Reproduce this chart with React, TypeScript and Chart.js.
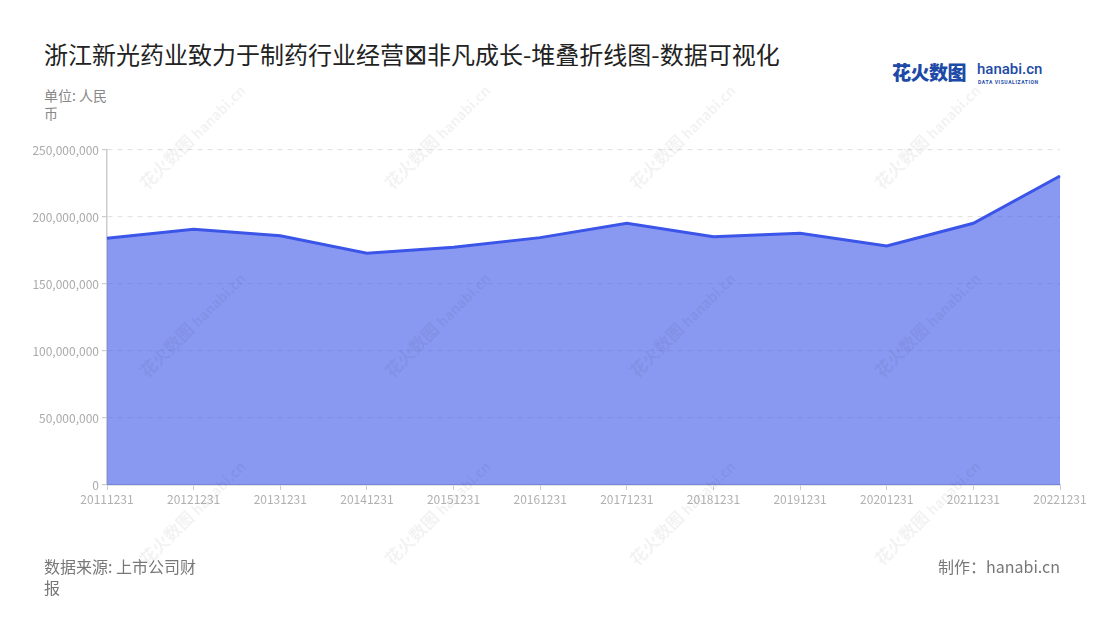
import React, { useRef, useEffect } from 'react';
import { Chart, registerables } from 'chart.js';

Chart.register(...registerables);

const categories = ['20111231', '20121231', '20131231', '20141231', '20151231', '20161231', '20171231', '20181231', '20191231', '20201231', '20211231', '20221231'];
const revenue = [184100000, 190800000, 186000000, 172900000, 177400000, 184600000, 195300000, 185300000, 187800000, 178400000, 195300000, 230600000];
const yTicks = [0, 50000000, 100000000, 150000000, 200000000, 250000000];

const FONT = '"Noto Sans CJK SC", "Noto Sans", sans-serif';

const Watermarks: React.FC = () => {
    const marks: React.ReactNode[] = [];
    for (let r = 0; r < 3; r++) {
        for (let c = 0; c < 4; c++) {
            marks.push(
                <div
                    key={`${r}-${c}`}
                    style={{
                        position: 'absolute',
                        left: 120 + c * 245,
                        top: 120 + r * 188,
                        width: 150,
                        transform: 'rotate(-45deg)',
                        color: 'rgba(0,0,0,0.05)',
                        fontSize: 17,
                        fontWeight: 700,
                        whiteSpace: 'nowrap',
                    }}
                >
                    花火数图 <span style={{ fontSize: 14 }}>hanabi.cn</span>
                </div>
            );
        }
    }
    return <div style={{ position: 'absolute', inset: 0, pointerEvents: 'none', overflow: 'hidden' }}>{marks}</div>;
};

const StackedLine: React.FC = () => {
    const chartRef = useRef<HTMLCanvasElement>(null);
    const chartInstanceRef = useRef<Chart | null>(null);

    useEffect(() => {
        if (!chartRef.current) return;
        const ctx = chartRef.current.getContext('2d');
        if (!ctx) return;
        if (chartInstanceRef.current) chartInstanceRef.current.destroy();

        chartInstanceRef.current = new Chart(ctx, {
            type: 'line',
            data: {
                labels: categories,
                datasets: [{
                    label: '营业收入',
                    data: revenue,
                    borderColor: 'rgb(59, 85, 232)',
                    borderWidth: 3,
                    tension: 0,
                    pointRadius: 0,
                    fill: 'origin',
                    backgroundColor: 'rgba(59, 85, 232, 0.6)',
                }]
            },
            options: {
                animation: false,
                responsive: false,
                maintainAspectRatio: false,
                layout: { padding: { top: 20, right: 40, left: 0, bottom: 0 } },
                plugins: {
                    legend: { display: false },
                    tooltip: { enabled: false },
                },
                scales: {
                    x: {
                        afterFit: (scale: any) => { scale.height = 35; },
                        grid: { drawOnChartArea: false, tickLength: 5, color: '#cccccc' },
                        border: { color: '#cccccc', width: 1.5 },
                        ticks: {
                            color: '#b0b0b0',
                            font: { family: FONT, size: 12 },
                            maxRotation: 0,
                            autoSkip: false,
                            padding: 2,
                        },
                    },
                    y: {
                        min: 0,
                        max: 250000000,
                        afterFit: (scale: any) => { scale.width = 87; },
                        afterBuildTicks: (scale: any) => { scale.ticks = yTicks.map(v => ({ value: v })); },
                        grid: { color: '#e4e4e4', tickLength: 5, tickColor: '#cccccc', lineWidth: 1.2 },
                        border: { color: '#cccccc', width: 1.5, dash: [5, 5] },
                        ticks: {
                            color: '#aaaaaa',
                            font: { family: FONT, size: 12 },
                            padding: 3,
                            callback: (v: any) => Number(v).toLocaleString('en-US'),
                        },
                    },
                },
            },
        });

        return () => {
            if (chartInstanceRef.current) chartInstanceRef.current.destroy();
        };
    }, []);

    return (
        <div style={{ position: 'absolute', left: 20, top: 130, width: 1080, height: 390 }}>
            <canvas ref={chartRef} width={1080} height={390} style={{ width: 1080, height: 390 }}></canvas>
        </div>
    );
};

const App: React.FC = () => {
    return (
        <div style={{ position: 'absolute', left: 0, top: 0, width: 1100, height: 620, background: '#fff', fontFamily: FONT, overflow: 'hidden' }}>
            <div style={{ position: 'absolute', left: 44, top: 36, fontSize: 24, color: '#222', whiteSpace: 'nowrap' }}>
                浙江新光药业致力于制药行业经营<span style={{ fontFamily: '"DejaVu Sans"', fontWeight: 300, fontSize: 28, lineHeight: 1 }}>⊠</span>非凡成长-堆叠折线图-数据可视化
            </div>
            <div style={{ position: 'absolute', left: 44, top: 86, width: 68, fontSize: 14, lineHeight: '18px', color: '#888' }}>
                单位: 人民币
            </div>

            <div style={{ position: 'absolute', left: 892, top: 58, whiteSpace: 'nowrap', color: '#1d4aa6' }}>
                <span style={{ fontSize: 19, fontWeight: 900, letterSpacing: -0.5 }}>花火数图</span>
                <span style={{ position: 'absolute', left: 85, top: 2, fontSize: 15, fontWeight: 500, fontFamily: 'Roboto, sans-serif' }}>hanabi.cn</span>
                <span style={{ position: 'absolute', left: 86, top: 21, fontSize: 5, fontWeight: 700, fontFamily: 'Roboto, sans-serif', letterSpacing: 0.6 }}>DATA VISUALIZATION</span>
            </div>

            <StackedLine />
            <Watermarks />

            <div style={{ position: 'absolute', left: 44, top: 556, width: 160, fontSize: 16, lineHeight: '21px', color: '#777' }}>
                数据来源: 上市公司财报
            </div>
            <div style={{ position: 'absolute', right: 40, top: 556, fontSize: 16, lineHeight: '21px', color: '#777', whiteSpace: 'nowrap' }}>
                制作：hanabi.cn
            </div>
        </div>
    );
};

export default App;
